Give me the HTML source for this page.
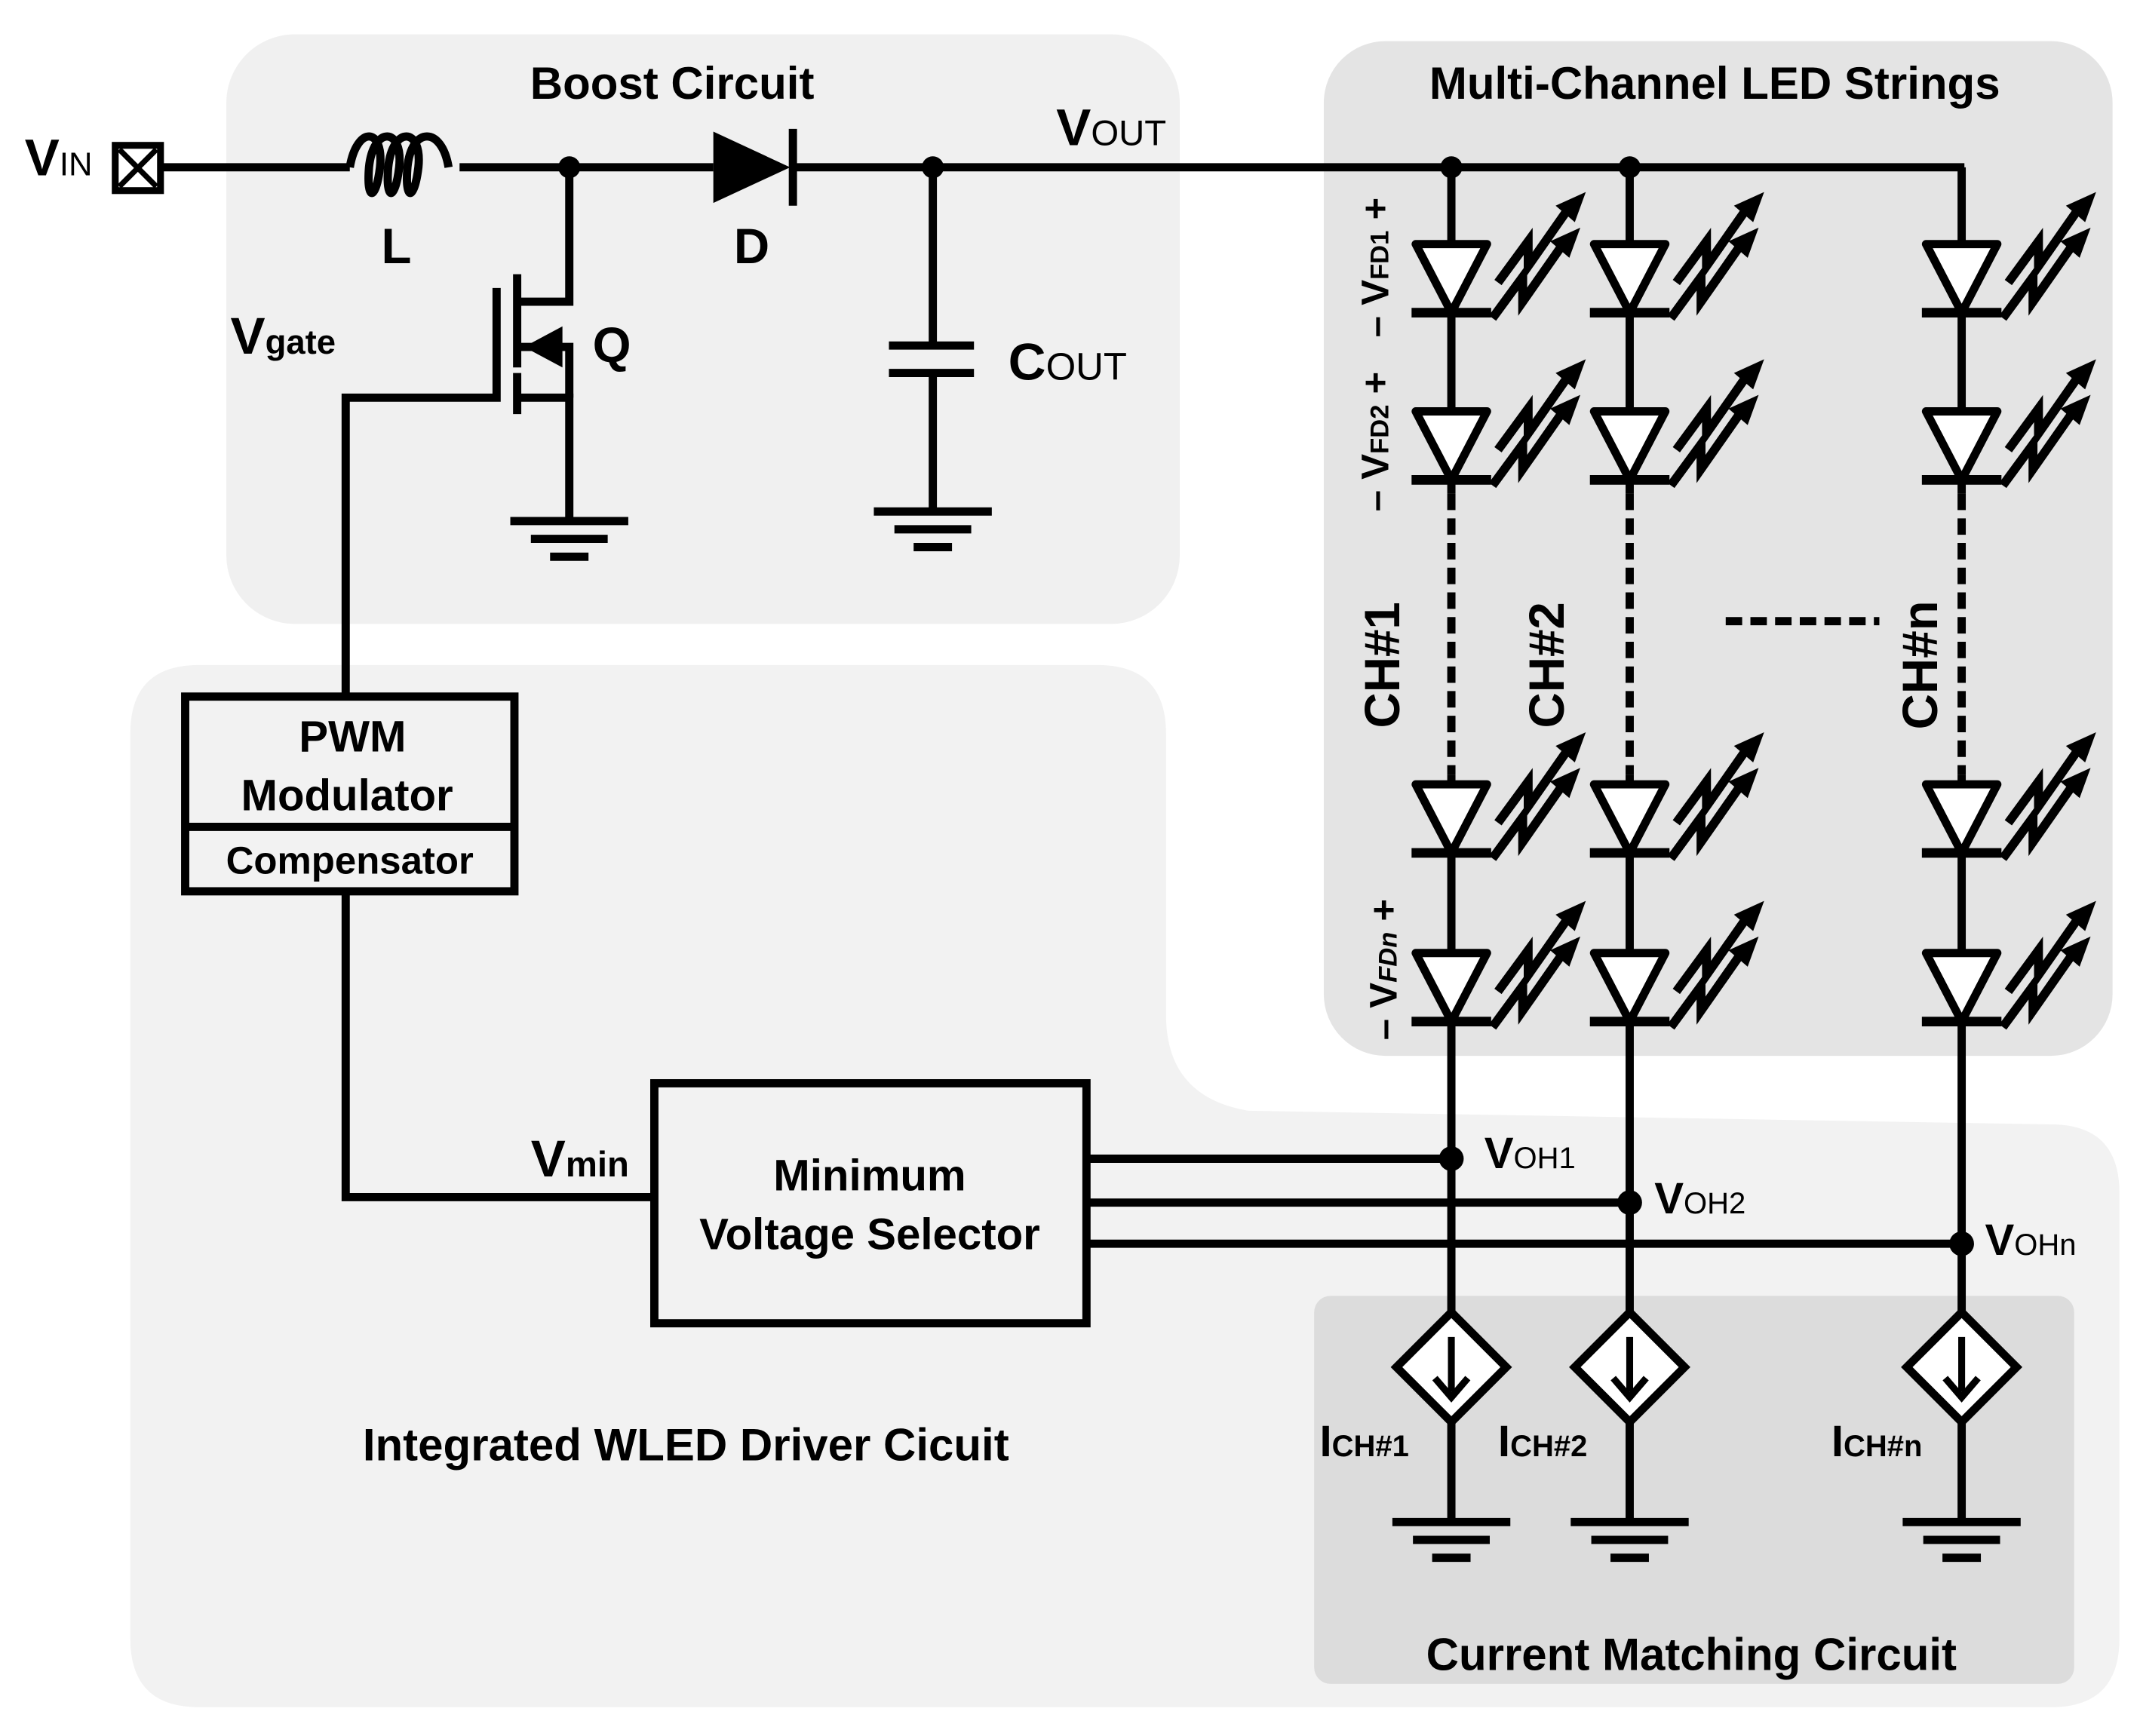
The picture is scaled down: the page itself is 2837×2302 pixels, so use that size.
<!DOCTYPE html>
<html><head><meta charset="utf-8"><style>
html,body{margin:0;padding:0;background:#fff}
svg{display:block}
text{font-family:"Liberation Sans",sans-serif;font-weight:bold;fill:#000}
</style></head><body>
<svg width="2837" height="2302" viewBox="0 0 1560 1266" preserveAspectRatio="none" xmlns="http://www.w3.org/2000/svg">
<defs>
<g id="led">
 <polygon points="-26,0 26,0 0,50" fill="#fff" stroke="#000" stroke-width="6" stroke-linejoin="round"/>
 <line x1="-29" y1="50" x2="29" y2="50" stroke="#000" stroke-width="7"/>
 <g fill="none" stroke="#000" stroke-width="6.5">
  <polyline points="34,28 56,-2 56,16 84,-24"/>
  <polyline points="30,54 52,24 52,42 80,2"/>
 </g>
 <polygon points="98,-38 76,-28 90,-16" fill="#000"/>
 <polygon points="94,-12 72,-2 86,10" fill="#000"/>
</g>
<g id="gnd" stroke="#000" stroke-width="6">
 <line x1="-43" y1="0" x2="43" y2="0"/>
 <line x1="-28" y1="13" x2="28" y2="13"/>
 <line x1="-14" y1="26" x2="14" y2="26"/>
</g>
<g id="cs">
 <polygon points="0,-40 40,0 0,40 -40,0" fill="#fff" stroke="#000" stroke-width="6"/>
 <line x1="0" y1="-22" x2="0" y2="18" stroke="#000" stroke-width="5"/>
 <polyline points="-12,8 0,22 12,8" fill="none" stroke="#000" stroke-width="5"/>
</g>
</defs>

<rect x="165" y="25" width="695" height="430" rx="50" fill="#f0f0f0"/>
<path d="M145,485 L800,485 Q850,485 850,535 L850,740 Q850,800 910,810 L1495,820 Q1545,820 1545,870 L1545,1195 Q1545,1245 1495,1245 L145,1245 Q95,1245 95,1195 L95,535 Q95,485 145,485 Z" fill="#f2f2f2"/>
<rect x="965" y="30" width="575" height="740" rx="45" fill="#e4e4e4"/>
<rect x="958" y="945" width="554" height="283" rx="12" fill="#dcdcdc"/>

<g stroke="#000" stroke-width="6" fill="none">
 <line x1="118" y1="122" x2="255" y2="122"/>
 <path d="M255,122 c5,-30 25,-30 22,0 c-3,25 -10,25 -8,0 c3,-30 25,-30 22,0 c-3,25 -10,25 -8,0 c3,-30 25,-30 22,0 c-3,25 -10,25 -8,0 c3,-30 25,-30 30,0"/>
 <line x1="335" y1="122" x2="520" y2="122"/>
 <line x1="578" y1="122" x2="1432" y2="122"/>
 <polyline points="415,122 415,220 377,220"/>
 <line x1="377" y1="200" x2="377" y2="237"/>
 <line x1="377" y1="237" x2="377" y2="268"/>
 <line x1="377" y1="272" x2="377" y2="302"/>
 <polyline points="362,210 362,290 252,290 252,508"/>
 <polyline points="377,290 415,290 415,378"/>
 <polyline points="377,253 415,253 415,290"/>
 <line x1="680" y1="122" x2="680" y2="252"/>
 <line x1="648" y1="252" x2="710" y2="252"/>
 <line x1="648" y1="272" x2="710" y2="272"/>
 <line x1="680" y1="272" x2="680" y2="372"/>
 <rect x="135" y="508" width="240" height="142" stroke-width="6"/>
 <line x1="135" y1="603" x2="375" y2="603"/>
 <polyline points="252,650 252,873 477,873"/>
 <rect x="477" y="790" width="315" height="175"/>
 <line x1="792" y1="845" x2="1058" y2="845"/>
 <line x1="792" y1="877" x2="1188" y2="877"/>
 <line x1="792" y1="907" x2="1430" y2="907"/>
 <line x1="1058" y1="122" x2="1058" y2="360"/>
 <line x1="1188" y1="122" x2="1188" y2="360"/>
 <line x1="1430" y1="122" x2="1430" y2="360"/>
 <line x1="1058" y1="565" x2="1058" y2="1112"/>
 <line x1="1188" y1="565" x2="1188" y2="1112"/>
 <line x1="1430" y1="565" x2="1430" y2="1112"/>
 <g stroke-dasharray="12,6">
  <line x1="1058" y1="360" x2="1058" y2="565"/>
  <line x1="1188" y1="360" x2="1188" y2="565"/>
  <line x1="1430" y1="360" x2="1430" y2="565"/>
  <line x1="1258" y1="453" x2="1370" y2="453"/>
 </g>
 <rect x="84" y="106" width="33" height="33" stroke-width="5"/>
 <line x1="87" y1="109" x2="114" y2="136" stroke-width="4"/>
 <line x1="114" y1="109" x2="87" y2="136" stroke-width="4"/>
</g>
<polygon points="520,96 520,148 576,122" fill="#000"/>
<line x1="578" y1="94" x2="578" y2="150" stroke="#000" stroke-width="6"/>
<polygon points="382,253 410,238 410,268" fill="#000"/>
<g fill="#000">
 <circle cx="415" cy="122" r="8"/><circle cx="680" cy="122" r="8"/>
 <circle cx="1058" cy="122" r="8"/><circle cx="1188" cy="122" r="8"/>
 <circle cx="1058" cy="845" r="9"/><circle cx="1188" cy="877" r="9"/><circle cx="1430" cy="907" r="9"/>
</g>
<use href="#gnd" x="415" y="380"/>
<use href="#gnd" x="680" y="373"/>
<use href="#led" x="1058" y="178"/><use href="#led" x="1188" y="178"/><use href="#led" x="1430" y="178"/>
<use href="#led" x="1058" y="300"/><use href="#led" x="1188" y="300"/><use href="#led" x="1430" y="300"/>
<use href="#led" x="1058" y="572"/><use href="#led" x="1188" y="572"/><use href="#led" x="1430" y="572"/>
<use href="#led" x="1058" y="695"/><use href="#led" x="1188" y="695"/><use href="#led" x="1430" y="695"/>
<use href="#cs" x="1058" y="997"/><use href="#cs" x="1188" y="997"/><use href="#cs" x="1430" y="997"/>
<use href="#gnd" x="1058" y="1110"/><use href="#gnd" x="1188" y="1110"/><use href="#gnd" x="1430" y="1110"/>

<g font-size="34">
 <text x="490" y="72" text-anchor="middle" font-size="33">Boost Circuit</text>
 <text x="1250" y="72" text-anchor="middle" font-size="33">Multi-Channel LED Strings</text>
 <text x="500" y="1065" text-anchor="middle" font-size="33">Integrated WLED Driver Cicuit</text>
 <text x="1233" y="1218" text-anchor="middle" font-size="33">Current Matching Circuit</text>
 <text x="18" y="128" font-size="38">V<tspan font-size="24" font-weight="normal">IN</tspan></text>
 <text x="770" y="106" font-size="38">V<tspan font-size="26" font-weight="normal">OUT</tspan></text>
 <text x="278" y="192" font-size="36">L</text>
 <text x="535" y="192" font-size="36">D</text>
 <text x="432" y="264" font-size="36">Q</text>
 <text x="735" y="277" font-size="38">C<tspan font-size="28" font-weight="normal">OUT</tspan></text>
 <text x="168" y="258" font-size="38">V<tspan font-size="25">gate</tspan></text>
 <text x="387" y="858" font-size="38">V<tspan font-size="26">min</tspan></text>
 <text x="257" y="548" text-anchor="middle" font-size="32">PWM</text>
 <text x="253" y="591" text-anchor="middle" font-size="32">Modulator</text>
 <text x="255" y="637" text-anchor="middle" font-size="28">Compensator</text>
 <text x="634" y="868" text-anchor="middle" font-size="32">Minimum</text>
 <text x="634" y="911" text-anchor="middle" font-size="32">Voltage Selector</text>
 <text x="1082" y="852" font-size="32">V<tspan font-size="22" font-weight="normal">OH1</tspan></text>
 <text x="1206" y="885" font-size="32">V<tspan font-size="22" font-weight="normal">OH2</tspan></text>
 <text x="1447" y="915" font-size="32">V<tspan font-size="22" font-weight="normal">OHn</tspan></text>
 <text x="962" y="1062" font-size="32">I<tspan font-size="22">CH#1</tspan></text>
 <text x="1092" y="1062" font-size="32">I<tspan font-size="22">CH#2</tspan></text>
 <text x="1335" y="1062" font-size="32">I<tspan font-size="22">CH#n</tspan></text>
 <text transform="translate(1020,485) rotate(-90)" text-anchor="middle" font-size="36">CH#1</text>
 <text transform="translate(1140,485) rotate(-90)" text-anchor="middle" font-size="36">CH#2</text>
 <text transform="translate(1412,485) rotate(-90)" text-anchor="middle" font-size="36">CH#n</text>
 <text transform="translate(1012,195) rotate(-90)" text-anchor="middle" font-size="28" font-weight="normal">– V<tspan font-size="19">FD1</tspan> +</text>
 <text transform="translate(1012,322) rotate(-90)" text-anchor="middle" font-size="28" font-weight="normal">– V<tspan font-size="19">FD2</tspan> +</text>
 <text transform="translate(1018,707) rotate(-90)" text-anchor="middle" font-size="28" font-weight="normal">– V<tspan font-size="19" font-style="italic">FDn</tspan> +</text>
</g>
</svg>
</body></html>
